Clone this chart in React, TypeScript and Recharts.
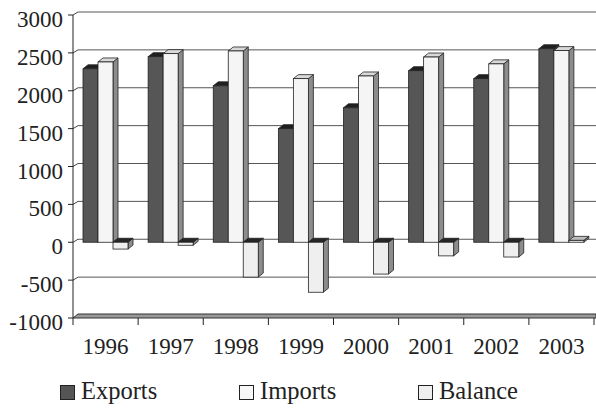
import React from "react";
import { BarChart, Bar, XAxis, YAxis, CartesianGrid } from "recharts";

const years = ["1996", "1997", "1998", "1999", "2000", "2001", "2002", "2003"];
const exportsValues = [2290, 2450, 2065, 1500, 1775, 2265, 2160, 2555];
const importsValues = [2380, 2490, 2525, 2160, 2195, 2445, 2355, 2530];
const balanceValues = [-90, -40, -460, -660, -420, -180, -195, 25];
const yTicks = [-1000, -500, 0, 500, 1000, 1500, 2000, 2500, 3000];

const W = 596;
const H = 408;
const Y_AXIS_W = 73;
const X_AXIS_H = 60;
const MARGIN = { top: 15, right: 2, bottom: 30, left: 0 };
const PLOT_BOTTOM = H - MARGIN.bottom - X_AXIS_H;
const BAND = (W - Y_AXIS_W - MARGIN.right) / years.length;
const DX = 5;
const DY = -4;
const FONT = '"Liberation Serif", "Times New Roman", serif';
const INK = "#222";

const data = years.map((year, i) => ({
  year,
  Exports: exportsValues[i],
  Imports: importsValues[i],
  Balance: balanceValues[i],
}));

// 3D box shape: front face, right side and top face
function box(key: string, front: string, side: string, top: string, topNeg: string) {
  return (props: any) => {
    const { x, y, width, height, payload } = props;
    if (x == null || y == null) return null;
    const y0 = Math.min(y, y + height);
    const y1 = Math.max(y, y + height);
    const h = y1 - y0;
    const neg = payload && payload[key] < 0;
    return (
      <g>
        <polygon
          points={`${x + width},${y0} ${x + width + DX},${y0 + DY} ${x + width + DX},${y1 + DY} ${x + width},${y1}`}
          fill={side}
          stroke={INK}
          strokeWidth={0.8}
        />
        <polygon
          points={`${x},${y0} ${x + DX},${y0 + DY} ${x + width + DX},${y0 + DY} ${x + width},${y0}`}
          fill={neg ? topNeg : top}
          stroke={INK}
          strokeWidth={0.8}
        />
        <rect x={x} y={y0} width={width} height={h} fill={front} stroke={INK} strokeWidth={0.8} />
      </g>
    );
  };
}

const gridLine = (props: any) => {
  const { x1, x2, y1, key } = props;
  if (Math.abs(y1 - PLOT_BOTTOM) < 1) {
    // floor slab at the bottom
    return (
      <g key={key}>
        <polygon
          points={`${x1},${y1} ${x1 + DX},${y1 + DY} ${W},${y1 + DY} ${W},${y1}`}
          fill="#9a9a9a"
          stroke="#333"
          strokeWidth={1}
        />
      </g>
    );
  }
  return (
    <g key={key}>
      <line x1={x1} y1={y1} x2={x1 + DX} y2={y1 + DY + 1} stroke="#444" strokeWidth={1} />
      <line x1={x1 + DX} y1={y1 + DY + 1} x2={Math.max(x2, W)} y2={y1 + DY + 1} stroke="#555" strokeWidth={1} />
    </g>
  );
};

const YTick = (props: any) => {
  const { x, y, payload } = props;
  return (
    <text x={x} y={y + 12} textAnchor="end" fontFamily={FONT} fontSize={23} fill={INK}>
      {payload.value}
    </text>
  );
};

const XTick = (props: any) => {
  const { x, payload, index } = props;
  const last = index === years.length - 1;
  return (
    <g>
      <line x1={x - BAND / 2} y1={PLOT_BOTTOM} x2={x - BAND / 2} y2={PLOT_BOTTOM + 7} stroke={INK} strokeWidth={1} />
      {last && (
        <line x1={x + BAND / 2} y1={PLOT_BOTTOM} x2={x + BAND / 2} y2={PLOT_BOTTOM + 7} stroke={INK} strokeWidth={1} />
      )}
      <text x={x} y={PLOT_BOTTOM + 36} textAnchor="middle" fontFamily={FONT} fontSize={23} fill={INK}>
        {payload.value}
      </text>
    </g>
  );
};

const legendItems = [
  { name: "Exports", color: "#555555", left: 60 },
  { name: "Imports", color: "#f7f7f7", left: 239 },
  { name: "Balance", color: "#eeeeee", left: 418 },
];

export default function App() {
  return (
    <div style={{ position: "absolute", left: 0, top: 0, width: W, height: H, background: "#fff" }}>
      <BarChart
        width={W}
        height={H}
        data={data}
        margin={MARGIN}
        barSize={15}
        barGap={0}
        barCategoryGap="15%"
      >
        <CartesianGrid vertical={false} horizontal={gridLine} />
        <XAxis
          dataKey="year"
          height={X_AXIS_H}
          axisLine={false}
          tickLine={false}
          tick={<XTick />}
          interval={0}
        />
        <YAxis
          width={Y_AXIS_W}
          domain={[-1000, 3000]}
          ticks={yTicks}
          interval={0}
          tickSize={5}
          tickMargin={5}
          axisLine={{ stroke: INK, strokeWidth: 1 }}
          tickLine={{ stroke: INK, strokeWidth: 1 }}
          tick={<YTick />}
        />
        <Bar dataKey="Exports" isAnimationActive={false} shape={box("Exports", "#565656", "#3a3a3a", "#1f1f1f", "#1f1f1f")} />
        <Bar dataKey="Imports" isAnimationActive={false} shape={box("Imports", "#f5f5f5", "#8c8c8c", "#d9d9d9", "#2a2a2a")} />
        <Bar dataKey="Balance" isAnimationActive={false} shape={box("Balance", "#efefef", "#8c8c8c", "#bdbdbd", "#262626")} />
      </BarChart>
      <svg width={W} height={30} style={{ position: "absolute", left: 0, top: 378 }}>
        {legendItems.map((it) => (
          <g key={it.name}>
            <rect x={it.left + 0.5} y={7.5} width={14} height={14} fill={it.color} stroke={INK} strokeWidth={1} />
            <text x={it.left + 21} y={21} fontFamily={FONT} fontSize={24.5} fill={INK}>
              {it.name}
            </text>
          </g>
        ))}
      </svg>
    </div>
  );
}
